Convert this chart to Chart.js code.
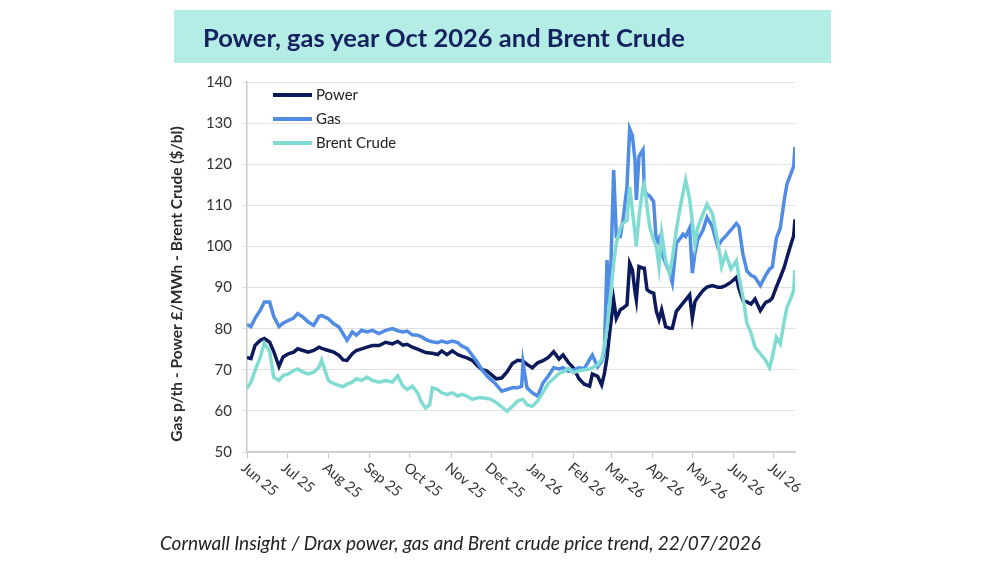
<!DOCTYPE html>
<html>
<head>
<meta charset="utf-8">
<script src="https://cdn.jsdelivr.net/npm/chart.js@4.4.1/dist/chart.umd.min.js"></script>
<style>
  body { margin: 0; background: #fff; width: 1000px; height: 563px; position: relative; overflow: hidden; font-family: Lato, sans-serif; }
  canvas { position: absolute; left: 0; top: 0; }
  #title { position: absolute; left: 174px; top: 10px; width: 657px; height: 53px; background: #b4ece6; }
  #title span { position: absolute; left: 29px; top: 0; line-height: 54px; font-weight: bold; font-size: 25.5px; color: #16215f; }
  #caption { position: absolute; left: 160px; top: 531px; font-style: italic; font-size: 19px; color: #222; }
</style>
</head>
<body>
<canvas id="chart" width="1000" height="563"></canvas>
<div id="title"><span>Power, gas year Oct 2026 and Brent Crude</span></div>
<div id="caption">Cornwall Insight / Drax power, gas and Brent crude price trend, 22/07/2026</div>
<script>
// days counted from 1 Jun 2025
const days = [0,3,6,10,13,17,20,24,27,31,35,38,42,46,50,54,56,61,65,69,72,75,79,82,86,90,94,99,104,109,
  113,117,120,124,128,131,134,137,139,143,146,150,154,158,161,165,169,173,176,180,183,187,191,195,199,203,206,207,210,214,218,
  222,226,230,234,237,241,245,249,253,257,259,263,266,268,270,272,275,277,280,282,285,287,289,291,292,294,297,298,300,302,
  305,307,309,311,314,317,319,322,325,327,329,332,334,336,338,342,345,349,353,356,359,363,367,369,372,375,378,381,385,389,
  392,394,397,400,403,405,408,410,411];

const power = [73,72.7,75.9,77.2,77.6,76.7,74.5,70.8,73.1,73.9,74.3,75.1,74.7,74.3,74.7,75.5,75.2,74.7,74.3,73.5,72.4,72.3,73.9,74.7,75.1,75.5,75.9,75.9,76.7,76.3,
  76.9,76,76.2,75.5,75,74.6,74.2,74.1,74,73.7,74.6,73.7,74.6,73.7,73.3,72.9,72.3,70.9,70.1,69.7,68.9,67.8,68,69.5,71.5,72.3,72.2,72.1,71.3,70.5,71.7,
  72.2,73.0,74.4,72.6,73.6,71.8,70.4,67.8,66.5,66.0,69.0,68.4,66.3,69,73,79,87,82.5,84.6,85,85.8,95.9,94.3,89,87,95.1,94.7,94.7,89.5,89,
  88.6,84.2,82.2,84.6,80.5,80.1,80.1,84.2,85.4,86.2,87,88.2,82.6,86.6,87.6,89.3,90.1,90.5,90.1,90.1,90.5,91.3,92.5,89.7,86.8,86.5,86,87.2,84.4,86.4,
  86.8,87.5,90.1,92.5,95,97.3,100.6,102.6,106.6];

const gas = [81,80.5,82.5,84.5,86.5,86.5,83,80.5,81.3,82,82.6,83.7,82.8,81.6,80.8,83,83.2,82.4,81.2,80.4,78.8,77.2,79.2,78.4,79.6,79.2,79.6,78.8,79.6,80,
  79.5,79.2,79.4,78.5,78.4,78,77.4,77,76.8,76.6,77,76.6,77,76.6,75.8,75.2,73.5,71.7,70.1,68.5,67.6,66.4,64.8,65.2,65.6,65.6,66,71.7,65.6,64.4,63.6,
  66.8,68.5,70.5,70.2,70.5,69.6,70,70.5,70.3,72.5,73.6,70.7,72,74,96.7,85,118.6,102.4,102.4,106.5,114.6,128.6,127,121,111.3,121.9,123.5,113.8,112.6,112.3,
  110.9,100.8,102,98.4,95.9,93.5,91.1,100.8,102,103,102.4,104.5,93.5,98.4,101.6,104,107.1,104.8,100,101.5,102.5,104,105.6,104.8,98,94,93,92.5,90.5,93,
  94.5,95,102,104.5,111.5,115.2,117.8,119.5,124.2];

const brent = [65.5,67,69.8,73.1,76.5,74.5,68.2,67.4,68.6,69,69.8,70.2,69.4,69,69.4,70.6,72.3,67.4,66.6,66.2,65.9,66.5,67,67.8,67.4,68.2,67.4,67,67.4,67,
  68.5,66,65.2,66,64.4,62,60.7,61.5,65.6,65.2,64.4,64,64.4,63.6,64,63.6,62.8,63.2,63.2,63,62.8,62,61,59.9,61.1,62.4,62.8,62.8,61.5,61.1,62.4,
  64.5,66.7,67.9,69.1,69.5,70.3,69.3,69.8,70,70.2,70.5,71.2,72.5,75.6,80,86.2,95.9,100.8,104.5,105.6,106.4,114.5,109,103.2,100,107.3,114.5,115.3,109.7,104.8,
  101.6,100,95.1,103.2,96.5,93.5,97,104,109.7,113,116.2,111.5,106,100.5,104.6,107.9,110.3,108,101.4,95.1,98.2,94.5,96.5,92.5,87.6,81.2,79,75.5,73.9,72.3,
  70.5,73.1,77.9,76.3,82,85.2,87.5,89.3,94.3];

const tickDays = [0,30,61,92,122,153,183,214,245,273,304,334,365,395];
const tickLabels = ['Jun 25','Jul 25','Aug 25','Sep 25','Oct 25','Nov 25','Dec 25','Jan 26','Feb 26','Mar 26','Apr 26','May 26','Jun 26','Jul 26'];
const yTitle = 'Gas p/th - Power £/MWh - Brent Crude ($/bl)';

const pts = arr => days.map((d, i) => ({ x: d, y: arr[i] }));
const FONT = 'Lato, sans-serif';

// rotated month labels, in-plot legend and y title
const extras = {
  id: 'extras',
  afterDraw(chart) {
    const c = chart.ctx;
    const xs = chart.scales.x;
    const ca = chart.chartArea;
    c.save();
    c.fillStyle = '#333';
    c.font = '14.5px ' + FONT;
    c.textAlign = 'left';
    c.textBaseline = 'top';
    tickDays.forEach((d, i) => {
      const px = xs.getPixelForValue(d);
      c.save();
      c.translate(px + 1, ca.bottom + 8);
      c.rotate(40 * Math.PI / 180);
      c.fillText(tickLabels[i], 0, 0);
      c.restore();
    });

    c.font = '15px ' + FONT;
    c.textBaseline = 'middle';
    chart.data.datasets.forEach((ds, i) => {
      const y = ca.top + 13 + i * 24;
      c.strokeStyle = ds.borderColor;
      c.lineWidth = 4;
      c.beginPath();
      c.moveTo(ca.left + 26, y);
      c.lineTo(ca.left + 65, y);
      c.stroke();
      c.fillStyle = '#222';
      c.fillText(ds.label, ca.left + 69, y);
    });

    c.save();
    c.translate(177, 284);
    c.rotate(-Math.PI / 2);
    c.textAlign = 'center';
    c.font = 'bold 15.5px ' + FONT;
    c.fillStyle = '#2a2a2a';
    c.fillText(yTitle, 0, 0);
    c.restore();
    c.restore();
  }
};

new Chart(document.getElementById('chart'), {
  type: 'line',
  data: {
    datasets: [
      { label: 'Power', data: pts(power), borderColor: '#0c1a5b', borderWidth: 3.5, pointRadius: 0, tension: 0, order: 2 },
      { label: 'Gas', data: pts(gas), borderColor: '#518ce4', borderWidth: 3.5, pointRadius: 0, tension: 0, order: 1 },
      { label: 'Brent Crude', data: pts(brent), borderColor: '#80dcd2', borderWidth: 3.5, pointRadius: 0, tension: 0, order: 0 }
    ]
  },
  options: {
    responsive: false,
    animation: false,
    layout: { padding: { left: 160, top: 82, right: 205, bottom: 0 } },
    plugins: { legend: { display: false }, tooltip: { enabled: false } },
    scales: {
      x: {
        type: 'linear', min: 0, max: 411,
        afterBuildTicks: s => { s.ticks = tickDays.map(v => ({ value: v })); },
        afterFit: s => { s.height = 111; },
        ticks: { display: false },
        grid: { drawOnChartArea: false, drawTicks: true, tickLength: 6, color: '#c8c8c8' },
        border: { color: '#c8c8c8', width: 1.5 }
      },
      y: {
        min: 50, max: 140,
        afterFit: s => { s.width = 87; },
        ticks: { stepSize: 10, padding: 10, color: '#333', font: { family: FONT, size: 15 } },
        grid: { color: '#e0e0e0', tickLength: 5 },
        border: { color: '#c8c8c8', width: 1.5 }
      }
    }
  },
  plugins: [extras]
});
</script>
</body>
</html>
